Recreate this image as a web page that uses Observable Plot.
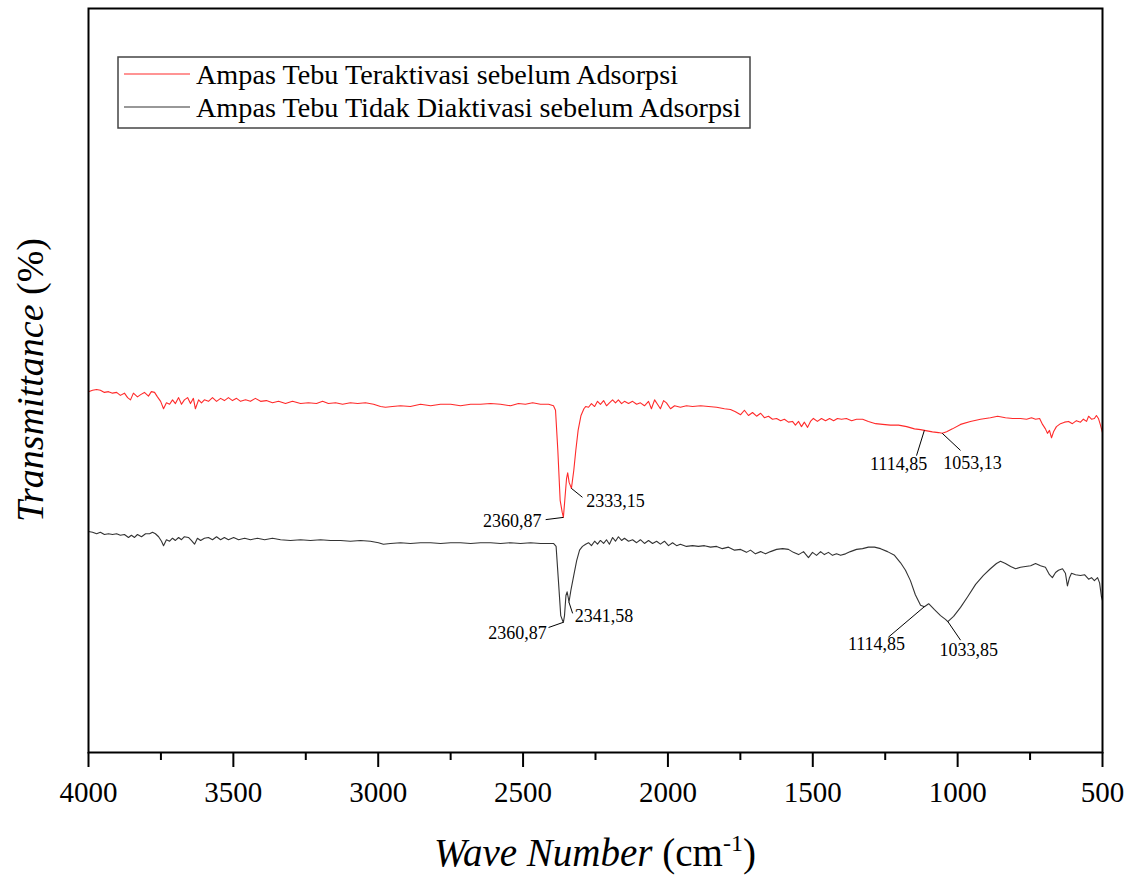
<!DOCTYPE html>
<html><head><meta charset="utf-8">
<script src="https://cdn.jsdelivr.net/npm/d3@7"></script>
<script src="https://cdn.jsdelivr.net/npm/@observablehq/plot@0.6"></script>
<style>body{margin:0;background:#fff;}</style>
</head><body><div id="chart"></div>
<script>
const seriesNames = ["Ampas Tebu Teraktivasi sebelum Adsorpsi", "Ampas Tebu Tidak Diaktivasi sebelum Adsorpsi"];
const seriesColors = ["#ff2a2a", "#333333"];

// [wave number (cm-1), transmittance (a.u. %)]
const redSpectrum = [[4000,48.5],[3986,48.7],[3972,48.8],[3959,48.7],[3945,48.4],[3931,48.5],[3917,48.3],[3903,48.4],[3890,48.0],[3876,48.3],[3865,47.7],[3855,47.4],[3845,48.3],[3831,47.8],[3820,48.1],[3807,48.4],[3793,47.9],[3783,48.5],[3772,48.4],[3762,47.8],[3751,47.2],[3741,46.2],[3731,47.0],[3720,46.8],[3710,47.4],[3700,46.9],[3689,47.7],[3679,46.8],[3669,47.4],[3658,47.7],[3648,46.9],[3638,47.6],[3631,46.2],[3620,47.4],[3610,47.0],[3600,47.4],[3586,47.2],[3572,47.7],[3558,47.2],[3544,47.6],[3531,47.3],[3517,47.7],[3503,47.3],[3489,47.6],[3475,47.2],[3458,47.4],[3441,47.2],[3424,47.6],[3406,47.2],[3386,47.3],[3365,47.0],[3344,47.2],[3320,46.9],[3296,47.2],[3268,46.9],[3241,47.0],[3213,46.9],[3192,47.2],[3172,46.9],[3147,47.0],[3123,46.8],[3096,47.0],[3071,46.9],[3044,47.0],[3016,46.8],[2992,46.5],[2975,46.4],[2951,46.5],[2923,46.6],[2889,46.5],[2854,46.8],[2819,46.6],[2785,46.8],[2750,46.8],[2716,46.6],[2681,46.8],[2647,46.8],[2612,46.9],[2578,46.8],[2543,46.6],[2516,46.9],[2492,46.8],[2467,47.0],[2440,46.8],[2412,46.8],[2395,46.6],[2388,46.0],[2380,40.6],[2372,33.9],[2365,32.3],[2360.87,31.6],[2356,33.9],[2350,36.8],[2346,37.6],[2341,36.3],[2333.15,35.5],[2325,37.9],[2318,40.6],[2310,43.3],[2300,45.3],[2290,46.2],[2284,46.5],[2274,46.4],[2264,46.9],[2253,46.5],[2243,47.2],[2233,46.8],[2222,47.3],[2212,46.6],[2202,47.0],[2191,47.4],[2181,47.0],[2171,47.4],[2160,46.9],[2150,47.2],[2136,46.9],[2122,47.2],[2108,46.8],[2095,47.0],[2081,46.6],[2067,47.2],[2057,46.2],[2046,47.4],[2036,46.8],[2026,46.2],[2015,47.3],[2005,47.0],[1991,46.2],[1977,46.6],[1957,46.4],[1936,46.6],[1915,46.5],[1887,46.6],[1860,46.5],[1832,46.4],[1805,46.2],[1784,46.1],[1767,45.8],[1749,45.4],[1736,46.0],[1722,45.3],[1708,45.7],[1694,45.2],[1680,45.6],[1667,45.0],[1653,45.2],[1639,44.8],[1625,44.9],[1611,44.6],[1598,44.8],[1584,44.4],[1570,44.5],[1560,44.0],[1549,44.5],[1539,43.8],[1529,44.4],[1518,43.7],[1508,44.5],[1498,44.9],[1484,44.5],[1470,44.9],[1456,44.6],[1442,44.9],[1428,44.6],[1415,44.9],[1401,44.8],[1384,44.9],[1366,44.6],[1349,44.8],[1328,44.8],[1308,44.5],[1283,44.2],[1259,44.1],[1232,44.0],[1204,44.0],[1176,43.8],[1149,43.5],[1128,43.4],[1114.85,43.3],[1087,43.1],[1066,43.0],[1053.13,42.9],[1038,43.1],[1018,43.5],[990,44.1],[956,44.5],[921,44.8],[887,45.0],[862,45.2],[835,45.0],[810,44.9],[783,44.9],[762,44.8],[745,45.0],[731,44.8],[717,44.9],[707,44.1],[697,43.5],[690,42.9],[683,43.3],[676,42.3],[669,43.1],[659,43.8],[645,44.2],[631,44.4],[617,44.5],[604,44.2],[590,44.6],[576,44.4],[566,44.8],[555,44.5],[548,45.2],[538,44.8],[528,44.9],[521,45.3],[514,44.9],[507,44.0],[500,43.0]];

const blackSpectrum = [[4000,29.7],[3986,29.6],[3972,29.4],[3959,29.6],[3945,29.3],[3931,29.4],[3917,29.3],[3903,29.4],[3890,29.2],[3876,29.3],[3862,28.9],[3852,29.2],[3841,28.9],[3831,29.3],[3817,29.0],[3803,29.4],[3789,29.4],[3779,29.6],[3769,29.4],[3758,29.0],[3748,28.4],[3741,27.8],[3731,28.6],[3720,28.4],[3710,28.8],[3700,28.5],[3689,28.9],[3679,28.6],[3669,29.0],[3655,28.9],[3645,28.5],[3634,28.0],[3624,28.8],[3613,28.5],[3600,28.8],[3586,28.9],[3572,28.6],[3558,29.0],[3544,28.6],[3531,28.9],[3517,28.6],[3499,28.9],[3482,28.6],[3461,28.8],[3441,28.6],[3417,28.8],[3392,28.6],[3365,28.8],[3337,28.6],[3303,28.5],[3268,28.6],[3234,28.5],[3199,28.6],[3165,28.5],[3130,28.5],[3096,28.4],[3061,28.5],[3027,28.4],[2999,28.2],[2982,28.0],[2958,28.1],[2923,28.2],[2889,28.1],[2854,28.2],[2819,28.2],[2785,28.1],[2750,28.2],[2716,28.2],[2681,28.1],[2647,28.2],[2612,28.2],[2578,28.1],[2543,28.2],[2509,28.1],[2474,28.2],[2440,28.1],[2412,28.1],[2395,28.1],[2386,27.7],[2378,23.1],[2370,18.4],[2362.5,17.6],[2360.87,17.5],[2357,18.4],[2352,21.1],[2348,21.6],[2344,20.8],[2341.58,20.2],[2335,21.8],[2325,23.8],[2315,25.8],[2305,27.2],[2295,27.7],[2284,28.0],[2274,28.2],[2264,27.8],[2253,28.4],[2243,28.0],[2233,28.5],[2222,28.1],[2212,28.6],[2202,28.0],[2191,28.9],[2181,28.4],[2171,29.0],[2160,28.5],[2150,28.8],[2136,28.4],[2122,28.6],[2108,28.2],[2095,28.6],[2081,28.1],[2067,28.5],[2053,28.1],[2039,28.4],[2026,28.0],[2012,28.4],[1998,27.8],[1984,28.2],[1970,27.8],[1957,28.0],[1936,27.7],[1915,27.8],[1895,27.7],[1874,27.8],[1853,27.6],[1832,27.7],[1812,27.4],[1791,27.6],[1770,27.2],[1749,27.3],[1729,26.9],[1715,27.2],[1698,26.7],[1680,27.0],[1663,26.7],[1646,27.0],[1625,27.3],[1604,27.4],[1584,27.3],[1567,26.9],[1549,26.6],[1532,27.0],[1515,26.2],[1501,26.9],[1487,26.5],[1473,27.0],[1460,26.6],[1446,26.9],[1432,26.5],[1418,26.7],[1404,26.5],[1387,26.7],[1370,27.0],[1349,27.3],[1328,27.4],[1308,27.6],[1287,27.6],[1266,27.4],[1242,27.0],[1218,26.5],[1197,25.5],[1180,24.5],[1163,23.1],[1146,21.2],[1128,19.8],[1114.85,19.6],[1100,20.0],[1080,19.2],[1059,18.4],[1042,17.9],[1033.85,17.6],[1014,18.3],[990,19.5],[966,20.9],[938,22.6],[911,23.8],[887,24.7],[866,25.4],[852,25.7],[835,25.4],[817,25.0],[800,24.7],[783,24.9],[766,25.0],[748,25.1],[731,25.4],[714,25.1],[697,24.9],[683,23.9],[673,23.5],[662,24.2],[652,24.5],[638,24.7],[628,24.1],[621,22.4],[614,23.5],[607,24.1],[593,23.9],[576,23.8],[562,23.9],[548,23.3],[538,23.5],[528,23.1],[517,23.5],[510,22.8],[504,21.0],[500,20.4]];

const xTicksMajor = [4000,3500,3000,2500,2000,1500,1000,500];
const xTicksMinor = [3750,3250,2750,2250,1750,1250,750];

// peak annotations
const annLabels = ["2360,87","2333,15","1114,85","1053,13","2360,87","2341,58","1114,85","1033,85"];
const annPeakX  = [2360.87,2333.15,1114.85,1053.13,2360.87,2341.58,1114.85,1033.85];
const annPeakY  = [31.6,35.5,43.3,42.9,17.5,20.2,19.6,17.6];
const annEndX   = [2422,2295,1142,990,2412,2329,1239,990];
const annEndY   = [31.3,34.3,39.9,40.6,16.8,18.7,15.5,15.1];
const annTextX  = [2436,2282,1204,949,2418,2322,1280,962];
const annTextY  = [31.1,33.8,38.7,38.9,16.0,18.3,14.6,13.8];
const annAnchor = ["end","start","middle","middle","end","start","middle","middle"];

const rows = [
  ...redSpectrum.map(([wn, t]) => ({wn, t, s: seriesNames[0]})),
  ...blackSpectrum.map(([wn, t]) => ({wn, t, s: seriesNames[1]}))
];
const ann = annLabels.map((label, i) => ({
  label, px: annPeakX[i], py: annPeakY[i], ex: annEndX[i], ey: annEndY[i],
  tx: annTextX[i], ty: annTextY[i], anchor: annAnchor[i]
}));

const font = "'Liberation Serif', 'Times New Roman', serif";
const textMark = (anchor) => Plot.text(ann, {
  filter: d => d.anchor === anchor, x: "tx", y: "ty", text: "label",
  textAnchor: anchor, fontSize: 18, fill: "#000"
});

const chart = Plot.plot({
  width: 1134, height: 876,
  marginLeft: 88, marginRight: 32, marginTop: 8, marginBottom: 124,
  style: {fontFamily: font, background: "#fff", color: "#000"},
  x: {domain: [4000, 500]},
  y: {domain: [0, 100], axis: null},
  color: {domain: seriesNames, range: seriesColors},
  marks: [
    Plot.axisX(xTicksMajor, {tickSize: 15, tickPadding: 14, fontSize: 29, strokeWidth: 2, tickFormat: d => String(d), label: null}),
    Plot.axisX(xTicksMinor, {tickSize: 8, strokeWidth: 2, tickFormat: () => "", label: null}),
    Plot.line(rows, {x: "wn", y: "t", z: "s", stroke: "s", strokeWidth: 1.1}),
    Plot.link(ann, {x1: "px", y1: "py", x2: "ex", y2: "ey", stroke: "#000", strokeWidth: 1}),
    textMark("end"), textMark("start"), textMark("middle"),
    Plot.frame({stroke: "#000", strokeWidth: 2})
  ]
});

const svg = d3.select(chart);
// legend
const lg = svg.append("g").attr("font-family", font).attr("text-anchor", "start");
lg.append("rect").attr("x", 118).attr("y", 57).attr("width", 632).attr("height", 71)
  .attr("fill", "#fff").attr("stroke", "#444").attr("stroke-width", 1.5);
seriesNames.forEach((name, i) => {
  const cy = 74 + i * 33;
  lg.append("line").attr("x1", 124).attr("x2", 190).attr("y1", cy).attr("y2", cy)
    .attr("stroke", seriesColors[i]).attr("stroke-width", 1.2);
  lg.append("text").attr("x", 196).attr("y", cy + 10).attr("font-size", 28.2)
    .attr("text-anchor", "start").attr("fill", "#000").text(name);
});
// y label
const yl = svg.append("text").attr("transform", "translate(43,380) rotate(-90)")
  .attr("text-anchor", "middle").attr("font-family", font).attr("font-size", 38).attr("fill", "#000");
yl.append("tspan").attr("font-style", "italic").text("Transmittance");
yl.append("tspan").text(" (%)");
// x label
const xl = svg.append("text").attr("x", 595).attr("y", 866)
  .attr("text-anchor", "middle").attr("font-family", font).attr("font-size", 39).attr("fill", "#000");
xl.append("tspan").attr("font-style", "italic").text("Wave Number");
xl.append("tspan").text(" (cm");
xl.append("tspan").attr("font-size", 24).attr("dy", -15).text("-1");
xl.append("tspan").attr("dy", 15).text(")");

document.getElementById("chart").appendChild(chart);
</script>
</body></html>
